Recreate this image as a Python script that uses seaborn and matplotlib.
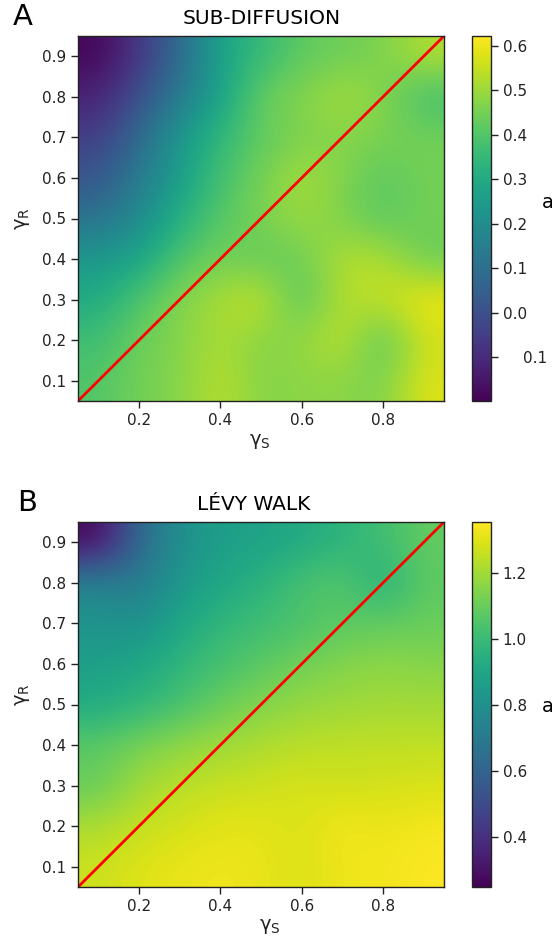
import matplotlib
matplotlib.use('Agg')
import matplotlib.pyplot as plt
import numpy as np
import seaborn as sns

W, H = 552, 940

# rows go from gamma_R = 0.9 (top) down to 0.1, columns gamma_S = 0.1 .. 0.9
sub_diffusion = [
    [-0.19, -0.07, 0.08, 0.28, 0.35, 0.42, 0.44, 0.46, 0.53],
    [-0.12, 0.00, 0.14, 0.27, 0.44, 0.47, 0.52, 0.47, 0.37],
    [-0.05, 0.08, 0.24, 0.35, 0.42, 0.46, 0.47, 0.46, 0.45],
    [0.02, 0.14, 0.26, 0.38, 0.45, 0.52, 0.47, 0.41, 0.45],
    [0.11, 0.19, 0.32, 0.41, 0.46, 0.50, 0.46, 0.41, 0.45],
    [0.24, 0.28, 0.40, 0.45, 0.42, 0.44, 0.53, 0.53, 0.43],
    [0.30, 0.40, 0.47, 0.52, 0.56, 0.40, 0.53, 0.55, 0.61],
    [0.37, 0.44, 0.47, 0.52, 0.47, 0.49, 0.55, 0.40, 0.56],
    [0.40, 0.45, 0.47, 0.54, 0.47, 0.48, 0.48, 0.46, 0.58],
]
levy_walk = [
    [0.26, 0.62, 0.80, 0.87, 0.88, 0.92, 0.96, 1.02, 1.09],
    [0.75, 0.70, 0.84, 0.90, 0.96, 1.04, 1.07, 0.93, 1.08],
    [0.82, 0.80, 0.90, 0.98, 1.01, 1.04, 1.07, 1.09, 1.10],
    [0.87, 0.90, 0.97, 1.03, 1.07, 1.12, 1.15, 1.17, 1.15],
    [0.92, 0.97, 1.03, 1.10, 1.15, 1.18, 1.19, 1.20, 1.20],
    [1.08, 1.13, 1.17, 1.20, 1.22, 1.24, 1.25, 1.25, 1.25],
    [1.09, 1.20, 1.24, 1.26, 1.27, 1.29, 1.27, 1.28, 1.29],
    [1.22, 1.26, 1.28, 1.31, 1.31, 1.29, 1.34, 1.32, 1.34],
    [1.27, 1.30, 1.32, 1.33, 1.32, 1.29, 1.33, 1.33, 1.35],
]
x_ticks = [0.2, 0.4, 0.6, 0.8]
y_ticks = [0.1, 0.2, 0.3, 0.4, 0.5, 0.6, 0.7, 0.8, 0.9]
cbar_ticks_a = [-0.1, 0.0, 0.1, 0.2, 0.3, 0.4, 0.5, 0.6]
cbar_ticks_b = [0.4, 0.6, 0.8, 1.0, 1.2]
diagonal = [0.05, 0.95]

sns.set_style('ticks')
plt.rcParams['font.family'] = ['DejaVu Sans']
plt.rcParams['mathtext.fontset'] = 'dejavusans'
plt.rcParams['mathtext.default'] = 'regular'

fig = plt.figure(figsize=(W / 100, H / 100), dpi=100)


def box(left, top, right, bottom):
    return [left / W, 1 - bottom / H, (right - left) / W, (bottom - top) / H]


def panel(data, top, title, title_x, letter, letter_x, vmin, vmax, cticks, xlab_x, ylab_y, a_y):
    bottom = top + 365
    ax = fig.add_axes(box(78, top, 444, bottom))
    im = ax.imshow(data, cmap='viridis', vmin=vmin, vmax=vmax, aspect='auto',
                   extent=[0.05, 0.95, 0.05, 0.95], interpolation='bicubic')
    sns.lineplot(x=diagonal, y=diagonal, color='red', linewidth=2, ax=ax)
    ax.set_xlim(0.05, 0.95)
    ax.set_ylim(0.05, 0.95)
    ax.set_xticks(x_ticks)
    ax.set_yticks(y_ticks)
    ax.tick_params(labelsize=11, length=5, width=1, color='#222222', labelcolor='#222222')
    for s in ax.spines.values():
        s.set_visible(True)
        s.set_linewidth(1)
        s.set_color('#222222')
    fig.text(xlab_x / W, 1 - (bottom + 40) / H, r'$\gamma_S$', fontsize=14, ha='center', va='center', color='#222222')
    fig.text(23 / W, 1 - ylab_y / H, r'$\gamma_R$', fontsize=14, ha='center', va='center', rotation=90, color='#222222')
    fig.text(title_x / W, 1 - (top - 18) / H, title, fontsize=14.5, ha='center', va='center', color='black')
    fig.text(letter_x / W, 1 - (top - 19) / H, letter, fontsize=21, ha='center', va='center', color='black')

    cax = fig.add_axes(box(472, top, 491, bottom))
    cb = fig.colorbar(im, cax=cax)
    cb.set_ticks(cticks)
    cb.set_ticklabels(['0.1' if t < 0 else '%.1f' % t for t in cticks])
    cax.tick_params(labelsize=11, length=5, width=1, color='#222222', labelcolor='#222222')
    cb.outline.set_linewidth(1)
    cb.outline.set_edgecolor('#222222')
    for t, tick in zip(cticks, cax.yaxis.get_major_ticks()):
        if t < 0:
            tick.set_pad(18)
    fig.text(542 / W, 1 - a_y / H, 'a', fontsize=14, ha='left', va='center', color='black')


panel(sub_diffusion, 36, 'SUB-DIFFUSION', 261.5, 'A', 23, -0.199, 0.6225, cbar_ticks_a, 260, 219, 202)
panel(levy_walk, 522, 'LÉVY WALK', 254, 'B', 27, 0.248, 1.355, cbar_ticks_b, 270, 695, 706)

fig.savefig('out.png', dpi=100)
